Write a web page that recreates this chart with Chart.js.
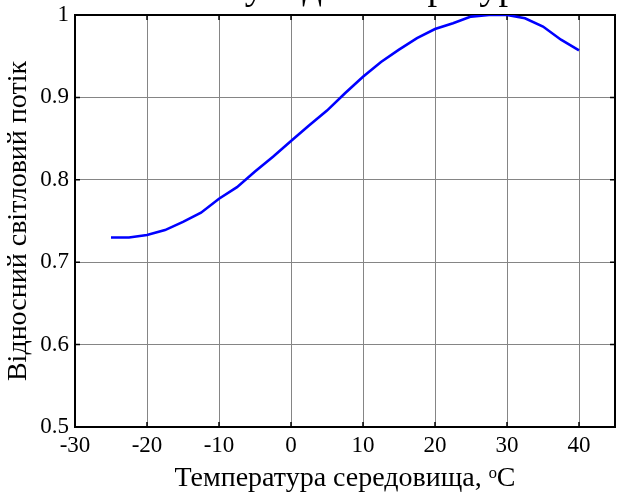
<!DOCTYPE html>
<html>
<head>
<meta charset="utf-8">
<script src="https://cdn.jsdelivr.net/npm/chart.js@4/dist/chart.umd.min.js"></script>
<style>
  html, body { margin: 0; padding: 0; background: #fff; }
  #frame { width: 617px; height: 496px; overflow: hidden; position: relative; }
  #holder { width: 617px; height: 556px; margin-top: -60px; position: relative; }
</style>
</head>
<body>
<div id="frame"><div id="holder"><canvas id="fluxChart"></canvas></div></div>
<script>
// relative luminous flux vs ambient temperature
const temps = [-25, -22.5, -20, -17.5, -15, -12.5, -10, -7.5, -5, -2.5, 0, 2.5, 5, 7.5, 10,
  12.5, 15, 17.5, 20, 22.5, 25, 27.5, 30, 32.5, 35, 37.5, 40];
const flux = [0.730, 0.730, 0.733, 0.739, 0.749, 0.760, 0.777, 0.791, 0.810, 0.828, 0.847,
  0.866, 0.884, 0.905, 0.925, 0.943, 0.958, 0.972, 0.983, 0.990, 0.998, 1.000, 1.000,
  0.996, 0.986, 0.970, 0.957];
const xTicks = [-30, -20, -10, 0, 10, 20, 30, 40];
const yTicks = [0.5, 0.6, 0.7, 0.8, 0.9, 1];

const serif = "'Liberation Serif', 'Times New Roman', serif";

// box round the plot plus short inward tick marks on every side
const boxPlugin = {
  id: 'box',
  beforeDatasetsDraw(chart) {
    const { ctx, chartArea: a, scales: { x, y } } = chart;
    ctx.save();
    ctx.strokeStyle = '#000';
    ctx.lineWidth = 1.5;
    ctx.beginPath();
    xTicks.forEach(v => {
      const px = x.getPixelForValue(v);
      ctx.moveTo(px, a.bottom); ctx.lineTo(px, a.bottom - 5);
      ctx.moveTo(px, a.top); ctx.lineTo(px, a.top + 5);
    });
    yTicks.forEach(v => {
      const py = y.getPixelForValue(v);
      ctx.moveTo(a.left, py); ctx.lineTo(a.left + 5, py);
      ctx.moveTo(a.right, py); ctx.lineTo(a.right - 5, py);
    });
    ctx.stroke();
    ctx.lineWidth = 2;
    ctx.strokeRect(a.left, a.top, a.right - a.left, a.bottom - a.top);
    ctx.restore();
  }
};

const ctx = document.getElementById('fluxChart').getContext('2d');
new Chart(ctx, {
  type: 'line',
  data: {
    datasets: [{
      data: temps.map((t, i) => ({ x: t, y: flux[i] })),
      borderColor: '#0000ff',
      borderWidth: 2.6,
      pointRadius: 0,
      tension: 0,
      fill: false
    }]
  },
  options: {
    responsive: true,
    maintainAspectRatio: false,
    animation: false,
    events: [],
    layout: { padding: { left: 0, right: 2, top: 0, bottom: 0 } },
    plugins: {
      legend: { display: false },
      tooltip: { enabled: false },
      title: {
        display: true,
        fullSize: false,
        text: 'потоку від температури',
        color: '#000',
        font: { family: serif, size: 38.5, weight: 'normal', lineHeight: 1.2 },
        padding: { top: 26, bottom: 2.8 }
      }
    },
    scales: {
      x: {
        type: 'linear',
        min: -30,
        max: 45,
        afterFit: s => { s.height = 69; },
        afterBuildTicks: s => { s.ticks = xTicks.map(v => ({ value: v })); },
        ticks: {
          color: '#000',
          padding: 5,
          font: { family: serif, size: 23 },
          maxRotation: 0
        },
        grid: { color: '#858585', lineWidth: 1, drawTicks: false },
        border: { display: false },
        title: {
          display: true,
          text: 'Температура середовища, ᵒC',
          color: '#000',
          font: { family: serif, size: 28, lineHeight: 1.2 },
          padding: { top: 0, bottom: 1 }
        }
      },
      y: {
        min: 0.5,
        max: 1,
        afterFit: s => { s.width = 75; },
        afterBuildTicks: s => { s.ticks = yTicks.map(v => ({ value: v })); },
        ticks: {
          color: '#000',
          padding: 6,
          font: { family: serif, size: 23 },
          callback: v => String(+v.toFixed(1))
        },
        grid: { color: '#858585', lineWidth: 1, drawTicks: false },
        border: { display: false },
        title: {
          display: true,
          text: 'Відносний світловий потік',
          color: '#000',
          font: { family: serif, size: 28, lineHeight: 1.2 },
          padding: { top: 2, bottom: 0 }
        }
      }
    }
  },
  plugins: [boxPlugin]
});
</script>
</body>
</html>
